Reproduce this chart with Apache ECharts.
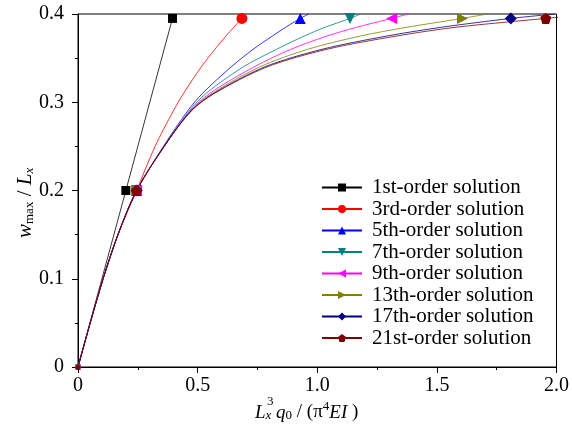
<!DOCTYPE html>
<html>
<head>
<meta charset="utf-8">
<script src="https://cdn.jsdelivr.net/npm/echarts@6/dist/echarts.min.js"></script>
<style>
html,body{margin:0;padding:0;background:#fff}
#main{width:572px;height:432px}
</style>
</head>
<body>
<div id="main"></div>
<script>
var wLevels = [0, 0.05, 0.1, 0.15, 0.2, 0.25, 0.29, 0.31, 0.34, 0.36, 0.375, 0.385, 0.395, 0.4]
var w1 = [0, 0.2, 0.395]
// L^3 q0 / (pi^4 EI) of each solution at those levels
var x1 = [0, 0.2, 0.395]
var x3 = [0, 0.051, 0.105, 0.167, 0.245, 0.322, 0.398, 0.441, 0.515, 0.572, 0.618, 0.651, 0.685]
var x5 = [0, 0.051, 0.105, 0.167, 0.245, 0.357, 0.458, 0.520, 0.640, 0.732, 0.812, 0.868, 0.929, 0.965]
var x7 = [0, 0.051, 0.105, 0.167, 0.245, 0.360, 0.465, 0.535, 0.690, 0.830, 0.945, 1.033, 1.137, 1.180]
var x9 = [0, 0.051, 0.105, 0.167, 0.245, 0.360, 0.468, 0.550, 0.735, 0.890, 1.040, 1.165, 1.311, 1.380]
var x13 = [0, 0.051, 0.105, 0.167, 0.245, 0.360, 0.470, 0.560, 0.760, 0.960, 1.180, 1.375, 1.607, 1.710]
var x17 = [0, 0.051, 0.105, 0.167, 0.245, 0.360, 0.472, 0.567, 0.780, 1.020, 1.290, 1.520, 1.809, 1.995]
var x21 = [0, 0.051, 0.105, 0.167, 0.245, 0.360, 0.473, 0.570, 0.790, 1.040, 1.330, 1.580, 1.955, 2.150]
var markerW = [0, 0.2, 0.395]

var names = ['1st-order solution', '3rd-order solution', '5th-order solution', '7th-order solution',
	'9th-order solution', '13th-order solution', '17th-order solution', '21st-order solution']

var FONT = '"Times New Roman", "Liberation Serif", serif'

var chart = echarts.init(document.getElementById('main'))

function makeData(xs, ws){
	return xs.map(function(x, i){
		var w = ws[i]
		var item = {value: [x, w]}
		if(markerW.indexOf(w) < 0){
			item.symbol = 'none'
		}else if(w === 0){
			item.symbolSize = 5
		}
		return item
	})
}

function line(name, xs, ws, color, symbol, rotate, size){
	return {
		name: name,
		type: 'line',
		data: makeData(xs, ws),
		smooth: 0.3,
		symbol: symbol,
		symbolRotate: rotate || 0,
		symbolSize: size || 10,
		showAllSymbol: true,
		color: color,
		lineStyle: {color: color, width: 0.8},
		itemStyle: {color: color},
		emphasis: {disabled: true},
		animation: false,
		z: 2
	}
}

var pentagon = 'path://M0,-1 L0.951,-0.309 L0.588,0.809 L-0.588,0.809 L-0.951,-0.309 Z'

var series = [
	Object.assign(line(names[0], x1, w1, '#000000', 'rect', 0, 9), {smooth: false}),
	line(names[1], x3, wLevels, '#ff0000', 'circle', 0, 11),
	line(names[2], x5, wLevels, '#0000ff', 'triangle', 0, 11),
	line(names[3], x7, wLevels, '#008080', 'triangle', 180, 11),
	line(names[4], x9, wLevels, '#ff00ff', 'triangle', 90, 11),
	line(names[5], x13, wLevels, '#808000', 'triangle', -90, 11),
	line(names[6], x17, wLevels, '#000080', 'diamond', 0, 12),
	line(names[7], x21, wLevels, '#800000', pentagon, 0, 11)
]

var option = {
	backgroundColor: '#fff',
	animation: false,
	grid: {left: 78, right: 14, top: 14, bottom: 65, show: true, borderColor: '#000', borderWidth: 1},
	legend: {
		orient: 'vertical',
		left: 316,
		top: 172,
		itemWidth: 40,
		itemHeight: 10,
		itemGap: 0.5,
		data: names,
		textStyle: {fontFamily: FONT, fontSize: 21, color: '#000', padding: [0, 0, 0, 5], lineHeight: 21},
		selectedMode: false
	},
	xAxis: {
		type: 'value',
		min: 0,
		max: 2,
		interval: 0.5,
		axisLine: {show: true, lineStyle: {color: '#000', width: 1}},
		axisTick: {show: true, inside: false, length: 6, lineStyle: {color: '#000'}},
		minorTick: {show: true, splitNumber: 2, length: 3, lineStyle: {color: '#000'}},
		splitLine: {show: false},
		axisLabel: {
			fontFamily: FONT, fontSize: 20, color: '#000', margin: 9,
			formatter: function(v){ return v === 0 ? '0' : v.toFixed(1) }
		}
	},
	yAxis: {
		type: 'value',
		min: 0,
		max: 0.4,
		interval: 0.1,
		axisLine: {show: true, lineStyle: {color: '#000', width: 1}},
		axisTick: {show: true, inside: false, length: 6, lineStyle: {color: '#000'}},
		minorTick: {show: true, splitNumber: 2, length: 3, lineStyle: {color: '#000'}},
		splitLine: {show: false},
		axisLabel: {
			fontFamily: FONT, fontSize: 20, color: '#000', margin: 14,
			formatter: function(v){ return v === 0 ? '0' : String(Math.round(v * 10) / 10) }
		}
	},
	graphic: [
		{
			type: 'text',
			left: 255,
			top: 400,
			style: {
				text: '{i|L}{sub|x}{n| }{i|q}{sub0|0}{n| / (π}{sup|4}{i|EI}{n| )}',
				rich: {
					i: {fontFamily: FONT, fontStyle: 'italic', fontSize: 19, fill: '#000', lineHeight: 22, verticalAlign: 'bottom'},
					n: {fontFamily: FONT, fontSize: 19, fill: '#000', lineHeight: 22, verticalAlign: 'bottom'},
					sub: {fontFamily: FONT, fontStyle: 'italic', fontSize: 13, fill: '#000', lineHeight: 8, verticalAlign: 'bottom'},
					sub0: {fontFamily: FONT, fontSize: 13, fill: '#000', lineHeight: 8, verticalAlign: 'bottom'},
					sup: {fontFamily: FONT, fontSize: 13, fill: '#000', lineHeight: 8, verticalAlign: 'top'}
				}
			}
		},
		{
			type: 'text',
			left: 267,
			top: 395,
			style: {text: '3', fontFamily: FONT, fontSize: 13, fill: '#000'}
		},
		{
			type: 'text',
			x: 12,
			y: 238,
			rotation: Math.PI / 2,
			style: {
				text: '{i|w}{sub|max}{n| / }{i|L}{subx|x}',
				rich: {
					i: {fontFamily: FONT, fontStyle: 'italic', fontSize: 21, fill: '#000', lineHeight: 24, verticalAlign: 'bottom'},
					n: {fontFamily: FONT, fontSize: 21, fill: '#000', lineHeight: 24, verticalAlign: 'bottom'},
					sub: {fontFamily: FONT, fontSize: 13, fill: '#000', lineHeight: 8, verticalAlign: 'bottom'},
					subx: {fontFamily: FONT, fontStyle: 'italic', fontSize: 13, fill: '#000', lineHeight: 8, verticalAlign: 'bottom'}
				}
			}
		}
	],
	series: series
}

chart.setOption(option)
</script>
</body>
</html>
